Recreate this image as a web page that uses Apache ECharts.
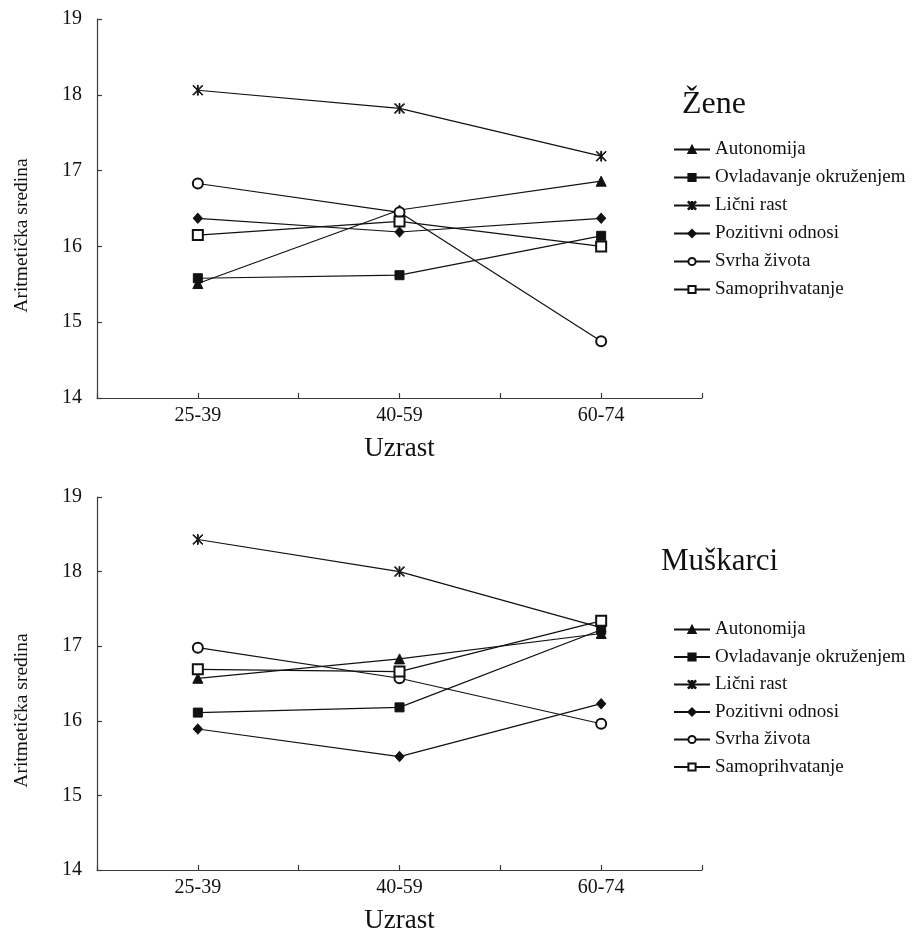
<!DOCTYPE html>
<html>
<head>
<meta charset="utf-8">
<script src="https://cdn.jsdelivr.net/npm/echarts@6/dist/echarts.min.js"></script>
<style>
html,body{margin:0;padding:0;background:#fff;}
#chart{width:915px;height:935px;}
</style>
</head>
<body>
<div id="chart"></div>
<script>
// ---- data ----
var ageGroups = ['25-39', '40-59', '60-74'];
var seriesNames = ['Autonomija', 'Ovladavanje okruženjem', 'Lični rast', 'Pozitivni odnosi', 'Svrha života', 'Samoprihvatanje'];
var titleWomen = 'Žene';
var titleMen = 'Muškarci';
var yTicks = [14, 15, 16, 17, 18, 19];

// Žene (women)
var zeneAutonomija = [15.51, 16.48, 16.86];
var zeneOvladavanje = [15.58, 15.62, 16.14];
var zeneLicniRast = [18.06, 17.82, 17.19];
var zenePozitivni = [16.37, 16.19, 16.37];
var zeneSvrha = [16.83, 16.45, 14.75];
var zeneSamoprihvatanje = [16.15, 16.33, 16.00];

// Muškarci (men)
var muskAutonomija = [16.57, 16.83, 17.17];
var muskOvladavanje = [16.11, 16.18, 17.22];
var muskLicniRast = [18.43, 18.00, 17.25];
var muskPozitivni = [15.89, 15.52, 16.23];
var muskSvrha = [16.98, 16.57, 15.96];
var muskSamoprihvatanje = [16.69, 16.66, 17.34];

// ---- styling ----
var FONT = '"Liberation Serif", "Times New Roman", serif';
var INK = '#111';
var AXIS = '#3a3a3a';
var asterisk = 'path://M4.6,0 L5.4,0 L5.4,10 L4.6,10 Z M0,0.6 L0.6,0 L10,9.4 L9.4,10 Z M9.4,0 L10,0.6 L0.6,10 L0,9.4 Z';
var symbols = [
  {symbol: 'triangle', size: 10},
  {symbol: 'rect', size: 9},
  {symbol: asterisk, size: 10},
  {symbol: 'diamond', size: [9, 10]},
  {symbol: 'emptyCircle', size: 10},
  {symbol: 'emptyRect', size: 10}
];
var womenData = [zeneAutonomija, zeneOvladavanje, zeneLicniRast, zenePozitivni, zeneSvrha, zeneSamoprihvatanje];
var menData = [muskAutonomija, muskOvladavanje, muskLicniRast, muskPozitivni, muskSvrha, muskSamoprihvatanje];

function toPoints(vals) {
  return vals.map(function (v, i) { return [2 * i + 1, v]; });
}

function makeSeries(dataSet, axisIndex) {
  return dataSet.map(function (vals, k) {
    return {
      type: 'line',
      name: seriesNames[k],
      xAxisIndex: axisIndex,
      yAxisIndex: axisIndex,
      data: toPoints(vals),
      symbol: symbols[k].symbol,
      symbolSize: symbols[k].size,
      showAllSymbol: true,
      lineStyle: {color: INK, width: 1.2},
      itemStyle: {color: INK, borderColor: INK, borderWidth: 1},
      emphasis: {disabled: true},
      animation: false,
      z: 2 + k
    };
  });
}

function xAxisCfg(gridIndex) {
  return {
    type: 'value',
    gridIndex: gridIndex,
    min: 0, max: 6, interval: 1,
    name: 'Uzrast',
    nameLocation: 'middle',
    nameGap: 37,
    nameTextStyle: {fontFamily: FONT, fontSize: 27, color: INK},
    axisLine: {show: true, onZero: false, lineStyle: {color: AXIS, width: 1.2}},
    axisTick: {show: true, inside: true, length: 5, lineStyle: {color: AXIS, width: 1.2}},
    axisLabel: {
      margin: 8,
      fontFamily: FONT, fontSize: 20, color: INK,
      showMinLabel: true, showMaxLabel: true,
      formatter: function (v) { return (v % 2 === 1) ? ageGroups[(v - 1) / 2] : ''; }
    },
    splitLine: {show: false}
  };
}

function yAxisCfg(gridIndex) {
  return {
    type: 'value',
    gridIndex: gridIndex,
    min: yTicks[0], max: yTicks[yTicks.length - 1], interval: 1,
    name: 'Aritmetička sredina',
    nameLocation: 'middle',
    nameRotate: 90,
    nameGap: 65,
    nameTextStyle: {fontFamily: FONT, fontSize: 19.5, color: INK, padding: [0, 54, 0, 0]},
    axisLine: {show: true, lineStyle: {color: AXIS, width: 1.2}},
    axisTick: {show: true, inside: true, length: 5, lineStyle: {color: AXIS, width: 1.2}},
    axisLabel: {margin: 15, fontFamily: FONT, fontSize: 20, color: INK},
    splitLine: {show: false}
  };
}

function legendCfg(top, gap) {
  return {
    orient: 'vertical',
    left: 673,
    top: top,
    padding: 0,
    itemWidth: 36,
    itemHeight: 9,
    itemGap: gap,
    selectedMode: false,
    data: seriesNames,
    textStyle: {fontFamily: FONT, fontSize: 19, color: INK, padding: [0, 0, 0, 0]}
  };
}

var option = {
  backgroundColor: '#fff',
  animation: false,
  title: [
    {text: titleWomen, left: 682, top: 89, padding: 0,
     textStyle: {fontFamily: FONT, fontSize: 32, fontWeight: 'normal', color: INK}},
    {text: titleMen, left: 661, top: 546, padding: 0,
     textStyle: {fontFamily: FONT, fontSize: 31, fontWeight: 'normal', color: INK}}
  ],
  legend: [legendCfg(140, 9), legendCfg(620, 8.5)],
  grid: [
    {left: 97, top: 19, width: 605, height: 379},
    {left: 97, top: 497, width: 605, height: 377}
  ],
  xAxis: [xAxisCfg(0), xAxisCfg(1)],
  yAxis: [yAxisCfg(0), yAxisCfg(1)],
  series: makeSeries(womenData, 0).concat(makeSeries(menData, 1))
};

var chart = echarts.init(document.getElementById('chart'), null, {renderer: 'canvas'});
chart.setOption(option);
</script>
</body>
</html>
